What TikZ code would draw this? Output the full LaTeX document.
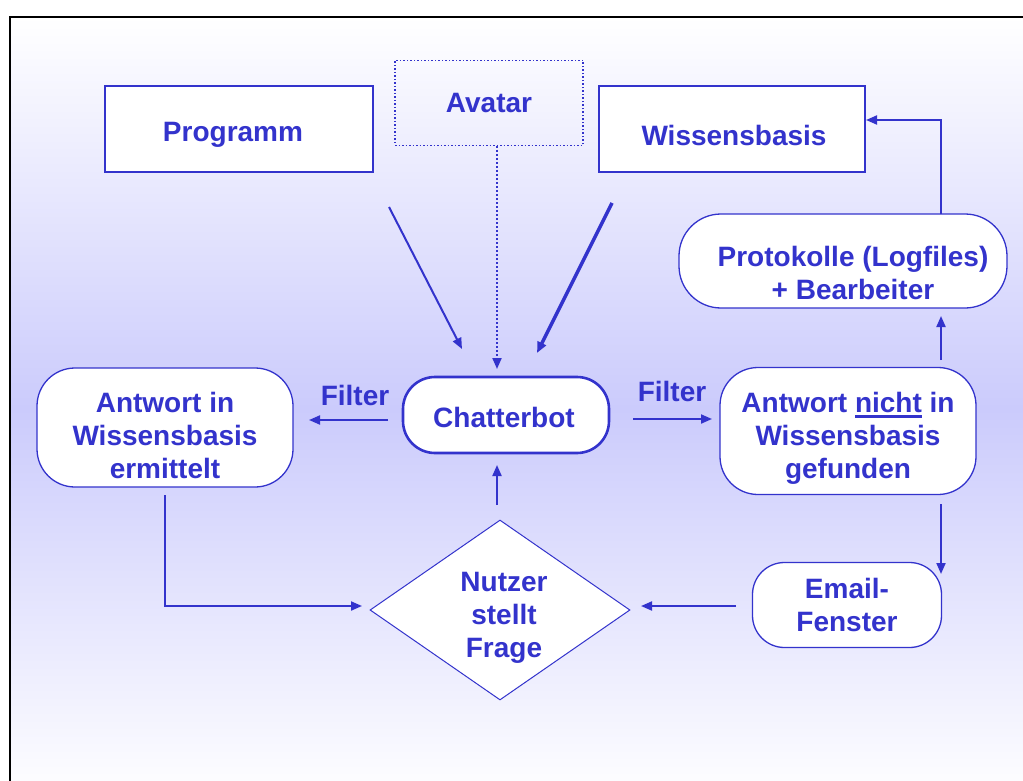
\documentclass[tikz,border=0pt]{standalone}
\usepackage{fontspec}
\setmainfont{Liberation Sans}
\usetikzlibrary{shapes.geometric,arrows.meta}
\definecolor{tblue}{RGB}{51,51,204}
\definecolor{lav}{RGB}{203,203,252}
\newcommand\thickul[1]{\setbox0\hbox{#1}\rlap{\color{tblue}\rule[-6pt]{\wd0}{2.8pt}}\box0\relax}
\begin{document}
\begin{tikzpicture}[x=1pt,y=-1pt,
  every node/.style={font=\fontsize{28}{33}\selectfont\bfseries, text=tblue, align=center, inner sep=0pt},
  boxnode/.style={draw=tblue, line width=1.3pt, fill=white, rectangle},
  termnode/.style={draw=tblue, line width=1.3pt, fill=white, rectangle},
  arr/.style={draw=tblue, line width=2pt, -{Triangle[length=11pt,width=9pt]}},
  ]
\clip (0,0) rectangle (1023,781);
\fill[white] (0,0) rectangle (1023,781);
\shade[top color=white, bottom color=white, middle color=lav] (10,17) rectangle (1040,800);
\draw[black, line width=2.2pt] (1040,17) -- (10,17) -- (10,800);

% shapes
\node[boxnode, minimum width=268pt, minimum height=86pt] (prog) at (239,129) {};
\node[draw=tblue, line width=1.5pt, dotted, rectangle, minimum width=188pt, minimum height=85pt] (avatar) at (489,103) {};
\node[boxnode, minimum width=266pt, minimum height=86pt] (wiss) at (732,129) {};
\node[termnode, rounded corners=42pt, minimum width=328pt, minimum height=94pt] (proto) at (843,261) {};
\node[termnode, rounded corners=38pt, minimum width=256pt, minimum height=127pt] (antnicht) at (848,431) {};
\node[termnode, rounded corners=32pt, minimum width=189pt, minimum height=85pt] (email) at (847,605) {};
\node[draw=tblue, line width=2.6pt, fill=white, rectangle, rounded corners=32pt, minimum width=206pt, minimum height=76pt] (chatter) at (506,415) {};
\node[termnode, rounded corners=38pt, minimum width=256pt, minimum height=119pt] (antin) at (165,427.5) {};
\node[draw=tblue, line width=1pt, fill=white, diamond, minimum width=260pt, minimum height=180pt] (nutzer) at (500,610) {};

% texts
\node (progtxt) at (233,135) {Programm};
\node (avatartxt) at (489,103) {Avatar};
\node (wisstxt) at (734,135) {Wissensbasis};
\node (prototxt) at (853,273) {Protokolle (Logfiles)\\+ Bearbeiter};
\node (antnichttxt) at (848,438) {Antwort \thickul{nicht} in\\Wissensbasis\\gefunden};
\node (emailtxt) at (847,605) {Email-\\Fenster};
\node (chattertxt) at (504,417) {Chatterbot};
\node (antintxt) at (165,435) {Antwort in\\Wissensbasis\\ermittelt};
\node (nutzertxt) at (504,618) {Nutzer\\stellt\\Frage};
\node (filterl) at (355,395) {Filter};
\node (filterr) at (672,391) {Filter};

% connector coordinates
\coordinate (p1) at (389,207);
\coordinate (p2) at (462,349);
\coordinate (a1) at (497,146);
\coordinate (a2) at (497,369);
\coordinate (w1) at (612,203);
\coordinate (w2) at (537,353);
\coordinate (fl1) at (388,420);
\coordinate (fl2) at (309,420);
\coordinate (fr1) at (633,419);
\coordinate (fr2) at (712,419);
\coordinate (n1) at (941,360);
\coordinate (n2) at (941,316);
\coordinate (pr1) at (941,214);
\coordinate (pr2) at (866,120);
\coordinate (e1) at (941,504);
\coordinate (e2) at (941,574);
\coordinate (em1) at (736,606);
\coordinate (em2) at (641,606);
\coordinate (d1) at (497,505);
\coordinate (d2) at (497,465);
\coordinate (l1) at (165,495);
\coordinate (l2) at (362,606);

\draw[arr] (p1) -- (p2);
\draw[draw=tblue, line width=2pt, dotted, -{Triangle[length=11pt,width=9pt]}] (a1) -- (a2);
\draw[arr, line width=3.4pt] (w1) -- (w2);
\draw[arr] (fl1) -- (fl2);
\draw[arr] (fr1) -- (fr2);
\draw[arr] (n1) -- (n2);
\draw[arr] (pr1) |- (pr2);
\draw[arr] (e1) -- (e2);
\draw[arr] (em1) -- (em2);
\draw[arr] (d1) -- (d2);
\draw[arr] (l1) |- (l2);
\end{tikzpicture}
\end{document}
